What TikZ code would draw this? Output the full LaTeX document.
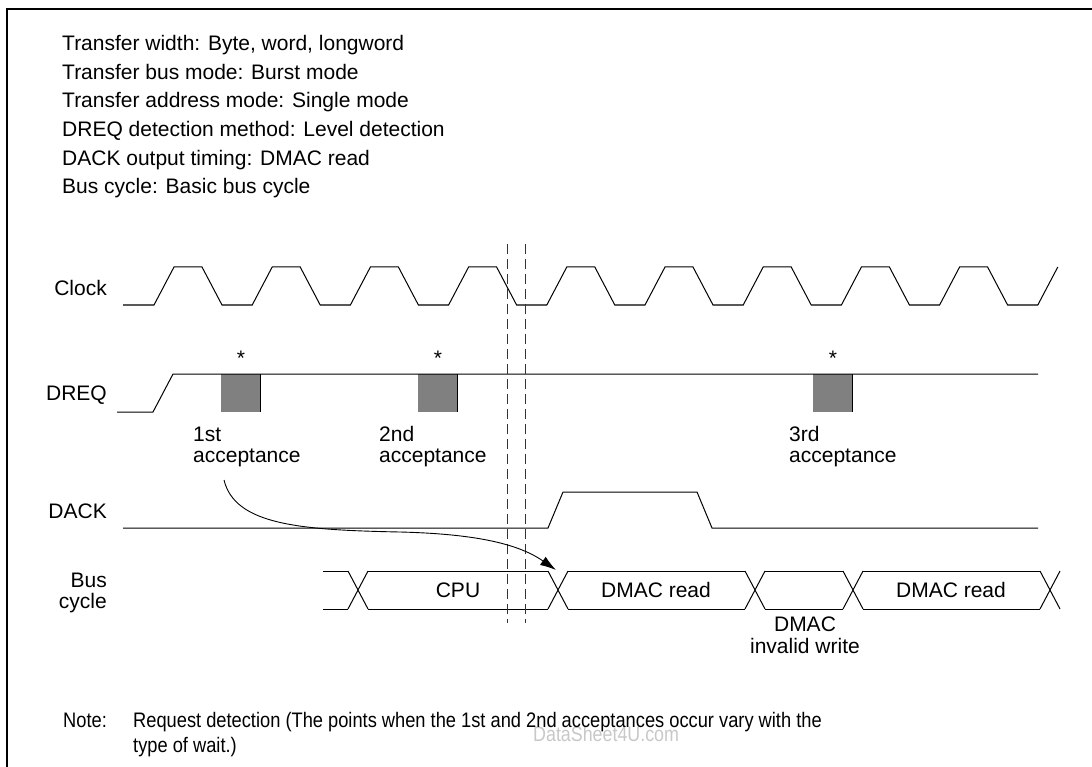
\documentclass[tikz,border=0pt]{standalone}
\usepackage{fontspec}
\setmainfont{Liberation Sans}
\usetikzlibrary{arrows.meta}
\definecolor{boxgray}{RGB}{128,128,128}
\definecolor{wmgray}{RGB}{200,200,200}
\begin{document}
\begin{tikzpicture}[x=1pt,y=-1pt,
  txt/.style={font=\fontsize{21}{25}\selectfont, inner sep=0pt},
  sig/.style={line width=1pt, line join=miter},
  guide/.style={line width=0.9pt, dash pattern=on 10pt off 5pt, black!80}]
\useasboundingbox (0,0) rectangle (1092,767);
% frame
\draw[line width=1.2pt] (7,767) -- (7,9) -- (1092,9);
% header
\node[txt,anchor=base west] (h1) at (62,51) {Transfer width: Byte, word, longword};
\node[txt,anchor=base west] (h2) at (62,79.6) {Transfer bus mode: Burst mode};
\node[txt,anchor=base west] (h3) at (62,108) {Transfer address mode: Single mode};
\node[txt,anchor=base west] (h4) at (62,137) {DREQ detection method: Level detection};
\node[txt,anchor=base west] (h5) at (62,165.4) {DACK output timing: DMAC read};
\node[txt,anchor=base west] (h6) at (62,194) {Bus cycle: Basic bus cycle};
% signal labels
\node[txt,anchor=base east] (lclk) at (107,295) {Clock};
\node[txt,anchor=base east] (ldreq) at (107,400) {DREQ};
\node[txt,anchor=base east] (ldack) at (107,518) {DACK};
\node[txt,anchor=base east] (lbus1) at (107,587) {Bus};
\node[txt,anchor=base east] (lbus2) at (107,608) {cycle};
% clock
\draw[sig] (123,305) \foreach \k in {0,...,8}{ -- ({154+\k*98.2},305) -- ({174+\k*98.2},267) -- ({202+\k*98.2},267) -- ({222+\k*98.2},305)} -- (1037.8,305) -- (1057.8,267);
% DREQ
\foreach \a/\n in {221/q1,418/q2,813/q3}{
  \fill[boxgray] (\a,374) rectangle ({\a+39},412);
  \draw[sig] ({\a+39},374) -- ({\a+39},412);
  \node[txt,anchor=north] (\n) at ({\a+20},351) {*};
}
\draw[sig] (117,412) -- (153,412) -- (173,374) -- (1038,374);
% acceptance labels
\node[txt,anchor=base west] (a1) at (193,441) {1st};
\node[txt,anchor=base west] (a1b) at (193,462) {acceptance};
\node[txt,anchor=base west] (a2) at (379,441) {2nd};
\node[txt,anchor=base west] (a2b) at (379,462) {acceptance};
\node[txt,anchor=base west] (a3) at (789,441) {3rd};
\node[txt,anchor=base west] (a3b) at (789,462) {acceptance};
% DACK
\draw[sig] (123,528) -- (548,528) -- (563,492) -- (697,492) -- (712,528) -- (1038,528);
% Bus cycle
\foreach \c in {358,558,755,853,1050}
  \draw[sig] ({\c-10},571) -- ({\c+10},609) ({\c-10},609) -- ({\c+10},571);
\draw[sig] (323,571) -- (348,571) (323,609) -- (348,609);
\foreach \a/\b in {368/548,568/745,765/843,863/1040}
  \draw[sig] (\a,571) -- (\b,571) (\a,609) -- (\b,609);
\node[txt,anchor=base] (cpu) at (458,597.5) {CPU};
\node[txt,anchor=base] (dr1) at (656,597.5) {DMAC read};
\node[txt,anchor=base] (dr2) at (951,597.5) {DMAC read};
\node[txt,anchor=base] (diw1) at (805,631.5) {DMAC};
\node[txt,anchor=base] (diw2) at (805,653) {invalid write};
% dashed guides
\draw[guide] (507,244) -- (507,623);
\draw[guide] (525,244) -- (525,623);
% arrow
\coordinate (arrS) at (224,480);
\coordinate (arrE) at (556,570);
\draw[line width=0.9pt,-{Latex[length=16pt,width=10pt]}] (arrS) .. controls (235,525) and (300,530) .. (400,532) .. controls (480,534) and (520,545) .. (arrE);
% watermark
\node[txt,anchor=base west,text=wmgray] (wm) at (533,741) {\scalebox{0.85}[1]{DataSheet4U.com}};
% note
\node[txt,anchor=base west] (note) at (63,727.5) {\scalebox{0.87}[1]{Note:}};
\node[txt,anchor=base west] (n1) at (133,727.5) {\scalebox{0.87}[1]{Request detection (The points when the 1st and 2nd acceptances occur vary with the}};
\node[txt,anchor=base west] (n2) at (133,752) {\scalebox{0.87}[1]{type of wait.)}};
\end{tikzpicture}
\end{document}
